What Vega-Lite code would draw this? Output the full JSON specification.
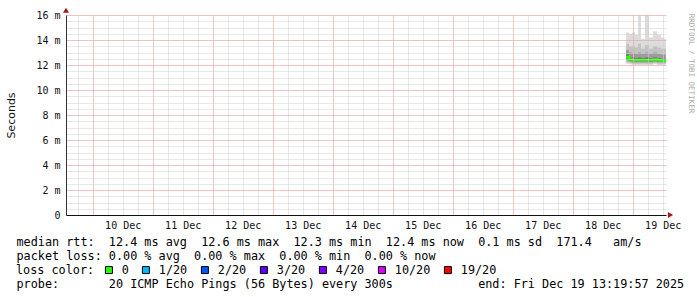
{
  "$schema": "https://vega.github.io/schema/vega-lite/v6.json",
  "width": 600,
  "height": 200,
  "autosize": {"type": "none"},
  "padding": {"left": 66, "top": 15, "right": 31, "bottom": 82},
  "background": "#ffffff",
  "config": {"view": {"stroke": null}},
  "datasets": {
    "smoke": [
      {"t0": "2025-12-18T21:19:57Z", "t1": "2025-12-18T22:31:57Z", "mn": 12.1, "a": 12.2, "b": 12.35, "c": 12.5, "d": 12.85, "e": 13.2, "f": 13.7, "mx": 14.6},
      {"t0": "2025-12-18T22:31:57Z", "t1": "2025-12-18T23:43:57Z", "mn": 12.05, "a": 12.15, "b": 12.25, "c": 12.35, "d": 12.6, "e": 13.0, "f": 13.5, "mx": 14.5},
      {"t0": "2025-12-18T23:43:57Z", "t1": "2025-12-19T00:55:57Z", "mn": 12.0, "a": 12.1, "b": 12.2, "c": 12.3, "d": 12.6, "e": 12.95, "f": 13.5, "mx": 14.6},
      {"t0": "2025-12-19T00:55:57Z", "t1": "2025-12-19T02:07:57Z", "mn": 12.0, "a": 12.1, "b": 12.2, "c": 12.3, "d": 12.55, "e": 12.9, "f": 13.4, "mx": 14.4},
      {"t0": "2025-12-19T02:07:57Z", "t1": "2025-12-19T03:19:57Z", "mn": 12.0, "a": 12.1, "b": 12.2, "c": 12.3, "d": 12.6, "e": 13.0, "f": 13.7, "mx": 16.0},
      {"t0": "2025-12-19T03:19:57Z", "t1": "2025-12-19T04:55:57Z", "mn": 12.0, "a": 12.1, "b": 12.2, "c": 12.3, "d": 12.55, "e": 12.9, "f": 13.3, "mx": 14.1},
      {"t0": "2025-12-19T04:55:57Z", "t1": "2025-12-19T06:31:57Z", "mn": 12.0, "a": 12.1, "b": 12.2, "c": 12.3, "d": 12.6, "e": 13.0, "f": 13.6, "mx": 16.0},
      {"t0": "2025-12-19T06:31:57Z", "t1": "2025-12-19T08:07:57Z", "mn": 12.0, "a": 12.1, "b": 12.2, "c": 12.3, "d": 12.55, "e": 12.9, "f": 13.3, "mx": 14.2},
      {"t0": "2025-12-19T08:07:57Z", "t1": "2025-12-19T09:43:57Z", "mn": 12.05, "a": 12.15, "b": 12.25, "c": 12.35, "d": 12.6, "e": 13.0, "f": 13.5, "mx": 14.7},
      {"t0": "2025-12-19T09:43:57Z", "t1": "2025-12-19T11:19:57Z", "mn": 12.0, "a": 12.1, "b": 12.2, "c": 12.3, "d": 12.55, "e": 12.9, "f": 13.4, "mx": 14.4},
      {"t0": "2025-12-19T11:19:57Z", "t1": "2025-12-19T12:31:57Z", "mn": 12.0, "a": 12.1, "b": 12.2, "c": 12.3, "d": 12.5, "e": 12.85, "f": 13.3, "mx": 14.2},
      {"t0": "2025-12-19T12:31:57Z", "t1": "2025-12-19T13:19:57Z", "mn": 12.0, "a": 12.1, "b": 12.2, "c": 12.3, "d": 12.5, "e": 12.85, "f": 13.3, "mx": 14.1}
    ],
    "median": [
      {"t": "2025-12-18T21:19:57Z", "med": 12.65, "loss": "0"},
      {"t": "2025-12-18T22:31:57Z", "med": 12.45, "loss": "0"},
      {"t": "2025-12-18T23:43:57Z", "med": 12.4, "loss": "0"},
      {"t": "2025-12-19T00:55:57Z", "med": 12.4, "loss": "0"},
      {"t": "2025-12-19T02:07:57Z", "med": 12.4, "loss": "0"},
      {"t": "2025-12-19T03:19:57Z", "med": 12.4, "loss": "0"},
      {"t": "2025-12-19T04:55:57Z", "med": 12.4, "loss": "0"},
      {"t": "2025-12-19T06:31:57Z", "med": 12.4, "loss": "0"},
      {"t": "2025-12-19T08:07:57Z", "med": 12.45, "loss": "0"},
      {"t": "2025-12-19T09:43:57Z", "med": 12.4, "loss": "0"},
      {"t": "2025-12-19T11:19:57Z", "med": 12.35, "loss": "0"},
      {"t": "2025-12-19T12:31:57Z", "med": 12.35, "loss": "0"},
      {"t": "2025-12-19T13:19:57Z", "med": 12.35, "loss": "0"}
    ],
    "arrows": [
      {"t": "2025-12-09T13:19:57Z", "v": 16.38, "dir": "up"},
      {"t": "2025-12-19T15:07:57Z", "v": 0, "dir": "right"}
    ]
  },
  "layer": [
    {
      "data": {"name": "smoke"},
      "mark": {"type": "rect", "color": "#dcdcdc"},
      "encoding": {
        "x": {
          "field": "t0", "type": "temporal",
          "scale": {"type": "utc", "nice": false, "domain": [1765286397000, 1766150397000]},
          "axis": {"orient": "bottom", "values": [1765303200000,1765324800000,1765346400000,1765368000000,1765389600000,1765411200000,1765432800000,1765454400000,1765476000000,1765497600000,1765519200000,1765540800000,1765562400000,1765584000000,1765605600000,1765627200000,1765648800000,1765670400000,1765692000000,1765713600000,1765735200000,1765756800000,1765778400000,1765800000000,1765821600000,1765843200000,1765864800000,1765886400000,1765908000000,1765929600000,1765951200000,1765972800000,1765994400000,1766016000000,1766037600000,1766059200000,1766080800000,1766102400000,1766124000000,1766145600000],
            "grid": true, "gridColor": "#d0d0d0", "gridDash": [1, 1], "labels": false, "ticks": false, "domain": false,
            "title": "probe:\u00a0\u00a0\u00a0\u00a0\u00a0\u00a0\u00a020\u00a0ICMP\u00a0Echo\u00a0Pings\u00a0(56\u00a0Bytes)\u00a0every\u00a0300s\u00a0\u00a0\u00a0\u00a0\u00a0\u00a0\u00a0\u00a0\u00a0\u00a0\u00a0\u00a0end:\u00a0Fri\u00a0Dec\u00a019\u00a013:19:57\u00a02025",
            "titleX": -50, "titleY": 72.5, "titleAlign": "left", "titleAnchor": "start", "titleBaseline": "alphabetic",
            "titleFont": "DejaVu Sans Mono", "titleFontSize": 11.8, "titleFontWeight": "normal", "titleColor": "#000000", "zindex": 1}
        },
        "x2": {"field": "t1"},
        "y": {
          "field": "mn", "type": "quantitative",
          "scale": {"domain": [0, 16], "nice": false, "zero": false},
          "axis": {"orient": "right", "values": [0,0.5,1,1.5,2,2.5,3,3.5,4,4.5,5,5.5,6,6.5,7,7.5,8,8.5,9,9.5,10,10.5,11,11.5,12,12.5,13,13.5,14,14.5,15,15.5,16],
            "grid": true, "gridColor": "#d0d0d0", "gridDash": [1, 1], "labels": false, "ticks": false, "domain": false,
            "title": "RRDTOOL / TOBI OETIKER", "titleAngle": 90, "titleX": 24, "titleY": 48, "titleAlign": "center", "titleBaseline": "middle",
            "titleFont": "DejaVu Sans Mono", "titleFontSize": 7.5, "titleFontWeight": "normal", "titleColor": "#aaaaaa", "zindex": 1}
        },
        "y2": {"field": "mx"}
      }
    },
    {
      "data": {"name": "smoke"},
      "mark": {"type": "rect", "color": "#c2c2c2"},
      "encoding": {
        "x": {"field": "t0", "type": "temporal", "axis": null},
        "x2": {"field": "t1"},
        "y": {"field": "a", "type": "quantitative", "axis": null},
        "y2": {"field": "f"}
      }
    },
    {
      "data": {"name": "smoke"},
      "mark": {"type": "rect", "color": "#9c9c9c"},
      "encoding": {
        "x": {"field": "t0", "type": "temporal", "axis": null},
        "x2": {"field": "t1"},
        "y": {"field": "b", "type": "quantitative", "axis": null},
        "y2": {"field": "e"}
      }
    },
    {
      "data": {"name": "smoke"},
      "mark": {"type": "rect", "color": "#707070"},
      "encoding": {
        "x": {"field": "t0", "type": "temporal", "axis": null},
        "x2": {"field": "t1"},
        "y": {"field": "c", "type": "quantitative", "axis": null},
        "y2": {"field": "d"}
      }
    },
    {
      "data": {"name": "median"},
      "mark": {"type": "line", "color": "#26ff00", "strokeWidth": 2.5, "interpolate": "step-after"},
      "encoding": {
        "x": {
          "field": "t", "type": "temporal",
          "axis": {"orient": "bottom", "values": [1765324800000,1765411200000,1765497600000,1765584000000,1765670400000,1765756800000,1765843200000,1765929600000,1766016000000,1766102400000],
            "format": "%d %b", "labelOffset": 30,
            "labelFont": "DejaVu Sans Mono", "labelFontSize": 10, "labelColor": "#111111", "labelPadding": 5, "labelOverlap": false, "labelFlush": false,
            "ticks": false, "grid": true, "gridColor": "#f0a0a0", "gridDash": [1, 1], "domain": true, "domainColor": "#111111",
            "title": ["median\u00a0rtt:\u00a0\u00a012.4\u00a0ms\u00a0avg\u00a0\u00a012.6\u00a0ms\u00a0max\u00a0\u00a012.3\u00a0ms\u00a0min\u00a0\u00a012.4\u00a0ms\u00a0now\u00a0\u00a00.1\u00a0ms\u00a0sd\u00a0\u00a0171.4\u00a0\u00a0\u00a0am/s",
                      "packet\u00a0loss:\u00a00.00\u00a0%\u00a0avg\u00a0\u00a00.00\u00a0%\u00a0max\u00a0\u00a00.00\u00a0%\u00a0min\u00a0\u00a00.00\u00a0%\u00a0now"],
            "titleX": -50, "titleY": 30.5, "titleAlign": "left", "titleAnchor": "start", "titleBaseline": "alphabetic", "titleLineHeight": 14,
            "titleFont": "DejaVu Sans Mono", "titleFontSize": 11.8, "titleFontWeight": "normal", "titleColor": "#000000", "zindex": 1}
        },
        "y": {
          "field": "med", "type": "quantitative",
          "axis": {"orient": "left", "values": [0, 2, 4, 6, 8, 10, 12, 14, 16], "labelExpr": "datum.value === 0 ? '0' : datum.value + ' m'",
            "labelFont": "DejaVu Sans Mono", "labelFontSize": 10, "labelColor": "#111111", "labelPadding": 6, "ticks": false,
            "grid": true, "gridColor": "#f0a0a0", "gridDash": [1, 1], "domain": true, "domainColor": "#333333",
            "title": "Seconds", "titleX": -55, "titleY": 100, "titleAngle": -90, "titleAlign": "center", "titleBaseline": "middle",
            "titleFont": "DejaVu Sans", "titleFontSize": 11, "titleFontWeight": "normal", "titleColor": "#111111", "zindex": 1}
        }
      }
    },
    {
      "data": {"name": "median"},
      "mark": {"type": "point", "shape": "square", "filled": true, "opacity": 0},
      "encoding": {
        "x": {"field": "t", "type": "temporal", "axis": null},
        "y": {"field": "med", "type": "quantitative", "axis": null},
        "fill": {
          "field": "loss", "type": "nominal",
          "scale": {"domain": ["0", "1/20", "2/20", "3/20", "4/20", "10/20", "19/20"],
                    "range": ["#26ff00", "#00b8ff", "#0059ff", "#5e00ff", "#7e00ff", "#dd00ff", "#ff0000"]},
          "legend": {"orient": "none", "legendX": -50, "legendY": 249, "direction": "horizontal",
            "title": "loss color:", "titleOrient": "left", "titlePadding": 8,
            "titleFont": "DejaVu Sans Mono", "titleFontSize": 11.8, "titleFontWeight": "normal", "titleColor": "#000000",
            "labelFont": "DejaVu Sans Mono", "labelFontSize": 11.8, "labelColor": "#000000", "labelOffset": 7,
            "columnPadding": 11, "symbolType": "square", "symbolSize": 49, "symbolStrokeWidth": 1, "symbolStrokeColor": "#000000", "symbolOpacity": 1,
            "encode": {"symbols": {"update": {"stroke": {"value": "#000000"}, "strokeWidth": {"value": 1}, "opacity": {"value": 1}}}}}
        }
      }
    },
    {
      "data": {"name": "arrows"},
      "mark": {"type": "point", "filled": true, "color": "#a01818", "size": 36, "opacity": 1},
      "encoding": {
        "x": {"field": "t", "type": "temporal", "axis": null},
        "y": {"field": "v", "type": "quantitative", "axis": null},
        "shape": {"field": "dir", "type": "nominal", "scale": {"domain": ["up", "right"], "range": ["triangle-up", "triangle-right"]}, "legend": null}
      }
    }
  ],
  "resolve": {"axis": {"x": "independent", "y": "independent"}}
}
